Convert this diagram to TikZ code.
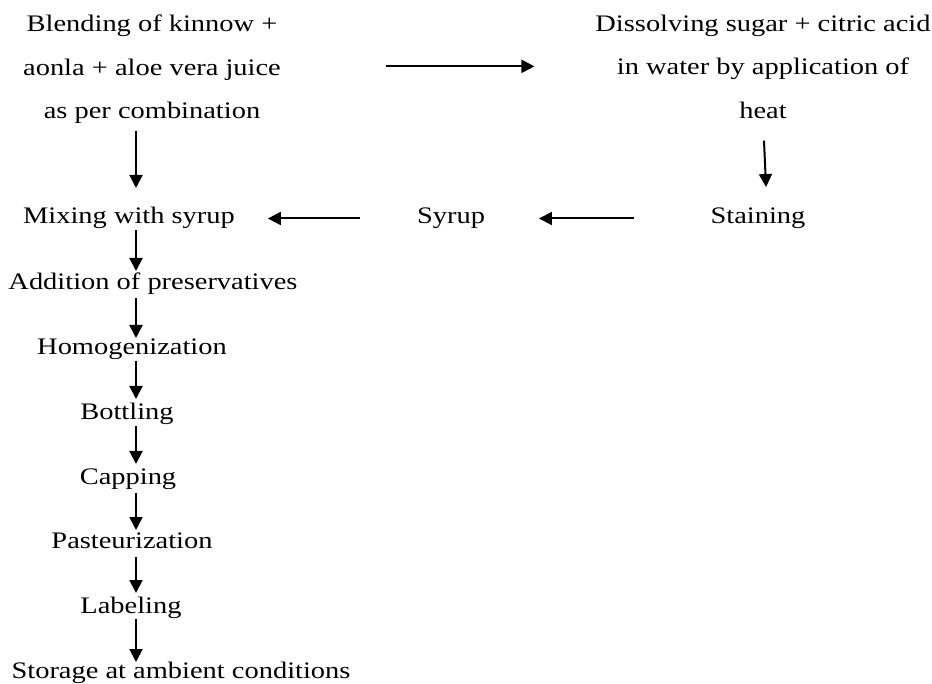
\documentclass[tikz,border=0pt]{standalone}
\usepackage{fontspec}
\setmainfont{Liberation Serif}[FakeStretch=1.2]
\usetikzlibrary{arrows.meta}
\begin{document}
\begin{tikzpicture}[x=1pt,y=-1pt,
  every node/.style={inner sep=0pt,outer sep=0pt,font=\fontsize{23.7}{43.5}\selectfont},
  lbl/.style={anchor=base,text height=16pt,text depth=5pt},
  multi/.style={anchor=north,align=center},
  flow/.style={line width=2pt,-{Triangle[length=13pt,width=13pt]}}]
\useasboundingbox (0,0) rectangle (932,684);
\coordinate (col) at (136,0);
% top row
\node[multi] (blend) at (152,15) {Blending of kinnow +\\aonla + aloe vera juice\\as per combination};
\node[multi] (diss) at (763,15) {Dissolving sugar + citric acid\\in water by application of\\heat};
% middle row
\node[lbl] (mix) at (129,224) {Mixing with syrup};
\node[lbl] (syrup) at (451,224) {Syrup};
\node[lbl] (stain) at (758,224) {Staining};
% left column
\node[lbl] (add) at (153,290) {Addition of preservatives};
\node[lbl] (homo) at (132,355) {Homogenization};
\node[lbl] (bott) at (127,420) {Bottling};
\node[lbl] (cap) at (128,485) {Capping};
\node[lbl] (past) at (132,548) {Pasteurization};
\node[lbl] (lab) at (131,613) {Labeling};
\node[lbl] (store) at (181,678) {Storage at ambient conditions};
% connectors
\draw[flow,shorten <=105pt,shorten >=61pt] ([yshift=3pt]blend.east) -- ([yshift=3pt]blend.east -| diss.west);
\draw[flow,shorten <=22pt,shorten >=21pt] (diss.south) -- ([xshift=9pt]stain.north);
\draw[flow,shorten <=77pt,shorten >=54pt] (stain.west) -- (syrup.east);
\draw[flow,shorten <=57pt,shorten >=33pt] (syrup.west) -- (mix.east);
\draw[flow,shorten <=7pt,shorten >=20pt] (blend.south -| col) -- (mix.north -| col);
\draw[flow,shorten <=1pt,shorten >=3pt] (mix.south -| col) -- (add.north -| col);
\draw[flow,shorten <=3pt,shorten >=1pt] (add.south -| col) -- (homo.north -| col);
\draw[flow,shorten <=1pt,shorten >=5pt] (homo.south -| col) -- (bott.north -| col);
\draw[flow,shorten <=1pt,shorten >=5pt] (bott.south -| col) -- (cap.north -| col);
\draw[flow,shorten <=3pt,shorten >=2pt] (cap.south -| col) -- (past.north -| col);
\draw[flow,shorten <=4pt,shorten >=4pt] (past.south -| col) -- (lab.north -| col);
\draw[flow,shorten <=1pt,shorten >=0pt] (lab.south -| col) -- (store.north -| col);
\end{tikzpicture}
\end{document}
